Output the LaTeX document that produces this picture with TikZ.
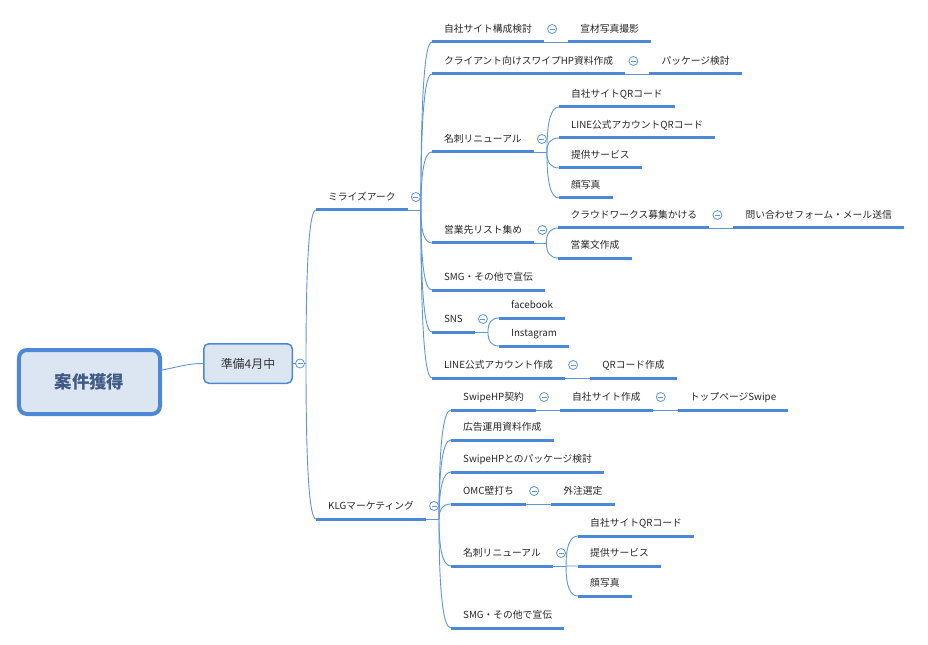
\documentclass[tikz,border=0pt]{standalone}
\usepackage{fontspec}
\setmainfont{Noto Sans CJK JP}
\usepackage{tikz}
\usetikzlibrary{positioning, calc}
\definecolor{MapBlue}{HTML}{4D88D6}
\definecolor{MapLine}{HTML}{5F95DC}
\definecolor{MapFill}{HTML}{DCE5F2}
\definecolor{MapText}{HTML}{3E5A85}

\tikzset{
  topic/.style={anchor=south west, inner xsep=12bp, inner ysep=0pt, text height=8bp, text depth=9.5bp,
    font=\fontsize{9.8}{11}\selectfont, text=black!85},
  uline/.style={MapBlue, line width=3bp},
  link/.style={MapLine, line width=0.9bp},
  branch/.style={link, to path={.. controls ($(\tikztostart)!.67!(\tikztostart|-\tikztotarget)$) and ($(\tikztotarget)!.67!(\tikztostart|-\tikztotarget)$) .. (\tikztotarget)}},
  fold/.style={circle, draw=MapLine, fill=white, line width=0.8bp, minimum size=9bp, inner sep=0pt,
    path picture={\draw[MapLine, line width=0.8bp] ([xshift=-2.5bp]path picture bounding box.center) -- ([xshift=2.5bp]path picture bounding box.center);}},
  rootbox/.style={draw=MapBlue, line width=4bp, fill=MapFill, rounded corners=8bp, minimum width=141bp, minimum height=64bp,
    inner sep=0pt, font=\fontsize{17.5}{20}\selectfont\bfseries, text=MapText},
  subbox/.style={draw=MapBlue, line width=1.5bp, fill=MapFill, rounded corners=5bp, minimum width=88.5bp, minimum height=39.5bp,
    inner sep=0pt, font=\fontsize{12}{14}\selectfont, text=black!80}
}

\begin{document}
\begin{tikzpicture}[x=1bp, y=-1bp]
  \useasboundingbox (0,0) rectangle (928,645);

  % centre
  \node[rootbox] (root) at (89.5,382) {案件獲得};
  \node[subbox] (junbi) at (248,363.5) {準備4月中};
  \coordinate (junbi-b) at ([xshift=13bp]junbi.east);

  % first level
  \node[topic] (mira) at ($(junbi-b)+(10,-153.5)$) {ミライズアーク};
  \node[topic] (klg) at ($(junbi-b)+(10,155.5)$) {KLGマーケティング};
  \coordinate (mira-b) at ([xshift=13bp]mira.south east);
  \coordinate (klg-b) at ([xshift=13bp]klg.south east);

  % ミライズアーク
  \node[topic] (jisha) at ($(mira-b)+(11,-168)$) {自社サイト構成検討};
  \node[topic] (senzai) at ([xshift=24bp]jisha.south east) {宣材写真撮影};
  \node[topic] (client) at ($(mira-b)+(11,-136)$) {クライアント向けスワイプHP資料作成};
  \node[topic] (package) at ([xshift=24bp]client.south east) {パッケージ検討};
  \node[topic] (meishi) at ($(mira-b)+(11,-58)$) {名刺リニューアル};
  \node[topic] (eigyo) at ($(mira-b)+(11,33)$) {営業先リスト集め};
  \node[topic] (smg) at ($(mira-b)+(11,80)$) {SMG・その他で宣伝};
  \node[topic] (sns) at ($(mira-b)+(11,122)$) {SNS};
  \node[topic] (lineacc) at ($(mira-b)+(11,168)$) {LINE公式アカウント作成};
  \node[topic] (qrmake) at ([xshift=25bp]lineacc.south east) {QRコード作成};

  \coordinate (meishi-b) at ([xshift=13bp]meishi.south east);
  \node[topic] (qr1) at ($(meishi-b)+(12,-45)$) {自社サイトQRコード};
  \node[topic] (lineqr) at ($(meishi-b)+(12,-14)$) {LINE公式アカウントQRコード};
  \node[topic] (service) at ($(meishi-b)+(12,16)$) {提供サービス};
  \node[topic] (photo) at ($(meishi-b)+(12,46)$) {顔写真};

  \coordinate (eigyo-b) at ([xshift=12bp]eigyo.south east);
  \node[topic] (crowd) at ($(eigyo-b)+(12,-15)$) {クラウドワークス募集かける};
  \node[topic] (toiawase) at ([xshift=24bp]crowd.south east) {問い合わせフォーム・メール送信};
  \node[topic] (bunsho) at ($(eigyo-b)+(12,15)$) {営業文作成};

  \coordinate (sns-b) at ([xshift=13bp]sns.south east);
  \node[topic] (fb) at ($(sns-b)+(11,-14)$) {facebook};
  \node[topic] (insta) at ($(sns-b)+(11,14)$) {Instagram};

  % KLGマーケティング
  \node[topic] (swipe) at ($(klg-b)+(12,-109)$) {SwipeHP契約};
  \node[topic] (sitemake) at ([xshift=24bp]swipe.south east) {自社サイト作成};
  \node[topic] (toppage) at ([xshift=25bp]sitemake.south east) {トップページSwipe};
  \node[topic] (koukoku) at ($(klg-b)+(12,-79)$) {広告運用資料作成};
  \node[topic] (package2) at ($(klg-b)+(12,-47)$) {SwipeHPとのパッケージ検討};
  \node[topic] (omc) at ($(klg-b)+(12,-15)$) {OMC壁打ち};
  \node[topic] (gaichu) at ([xshift=25bp]omc.south east) {外注選定};
  \node[topic] (meishi2) at ($(klg-b)+(12,47)$) {名刺リニューアル};
  \node[topic] (smg2) at ($(klg-b)+(12,109)$) {SMG・その他で宣伝};

  \coordinate (meishi2-b) at ([xshift=13bp]meishi2.south east);
  \node[topic] (qr2) at ($(meishi2-b)+(12,-30)$) {自社サイトQRコード};
  \node[topic] (service2) at ($(meishi2-b)+(12,0)$) {提供サービス};
  \node[topic] (photo2) at ($(meishi2-b)+(12,30)$) {顔写真};

  % connectors
  \draw[link] ([yshift=12bp]root.east) to[out=10, in=180] (junbi.west);
  \draw[link] (junbi.east) -- (junbi-b);
  \foreach \c in {mira, klg} \draw[branch] (junbi-b) to (\c.south west);

  \draw[link] (mira.south east) -- (mira-b);
  \foreach \c in {jisha, client, meishi, eigyo, smg, sns, lineacc} \draw[branch] (mira-b) to (\c.south west);
  \draw[link] (meishi.south east) -- (meishi-b);
  \foreach \c in {qr1, lineqr, service, photo} \draw[branch] (meishi-b) to (\c.south west);
  \draw[link] (eigyo.south east) -- (eigyo-b);
  \foreach \c in {crowd, bunsho} \draw[branch] (eigyo-b) to (\c.south west);
  \draw[link] (sns.south east) -- (sns-b);
  \foreach \c in {fb, insta} \draw[branch] (sns-b) to (\c.south west);

  \draw[link] (klg.south east) -- (klg-b);
  \foreach \c in {swipe, koukoku, package2, omc, meishi2, smg2} \draw[branch] (klg-b) to (\c.south west);
  \draw[link] (meishi2.south east) -- (meishi2-b);
  \foreach \c in {qr2, service2, photo2} \draw[branch] (meishi2-b) to (\c.south west);

  \draw[link] (jisha.south east) -- (senzai.south west);
  \draw[link] (client.south east) -- (package.south west);
  \draw[link] (crowd.south east) -- (toiawase.south west);
  \draw[link] (lineacc.south east) -- (qrmake.south west);
  \draw[link] (swipe.south east) -- (sitemake.south west);
  \draw[link] (sitemake.south east) -- (toppage.south west);
  \draw[link] (omc.south east) -- (gaichu.south west);

  % underlines
  \foreach \n in {mira, klg, jisha, senzai, client, package, meishi, qr1, lineqr, service, photo,
    eigyo, crowd, toiawase, bunsho, smg, sns, fb, insta, lineacc, qrmake,
    swipe, sitemake, toppage, koukoku, package2, omc, gaichu, meishi2, qr2, service2, photo2, smg2}
    \draw[uline] (\n.south west) -- (\n.south east);

  % fold marks
  \node[fold] (junbi-fold) at ([xshift=7bp]junbi.east) {};
  \foreach \n in {mira, klg, jisha, client, meishi, eigyo, crowd, sns, lineacc, swipe, sitemake, omc, meishi2}
    \node[fold] (\n-fold) at ([xshift=8bp,yshift=13bp]\n.south east) {};
\end{tikzpicture}
\end{document}
